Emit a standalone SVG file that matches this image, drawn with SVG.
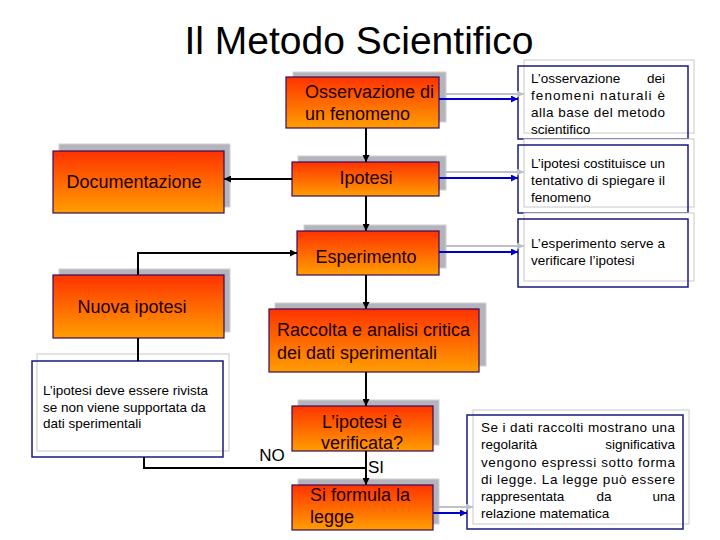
<svg xmlns="http://www.w3.org/2000/svg" width="720" height="540" viewBox="0 0 720 540">
<defs>
<linearGradient id="og" x1="0" y1="0" x2="0" y2="1">
<stop offset="0" stop-color="#FF3300"/>
<stop offset="1" stop-color="#FF9E00"/>
</linearGradient>
<marker id="ab" viewBox="0 0 10 10" refX="10" refY="5" markerWidth="7" markerHeight="7" markerUnits="userSpaceOnUse" orient="auto"><path d="M0,0 L10,5 L0,10 z" fill="#000"/></marker>
<marker id="au" viewBox="0 0 10 10" refX="10" refY="5" markerWidth="7" markerHeight="7" markerUnits="userSpaceOnUse" orient="auto"><path d="M0,0 L10,5 L0,10 z" fill="#0000CC"/></marker>
<marker id="ag" viewBox="0 0 10 10" refX="10" refY="5" markerWidth="7" markerHeight="7" markerUnits="userSpaceOnUse" orient="auto"><path d="M0,0 L10,5 L0,10 z" fill="#C0C0C8"/></marker>
</defs>
<style>
.sh{fill:#B4B4BC;stroke:#D0D0D4;stroke-width:1}
.bx{fill:url(#og);stroke:#3A0A5A;stroke-width:1.2}
.t{font-family:"Liberation Sans",Arial,sans-serif;font-size:18px;fill:#200000}
.gb{fill:#fff;stroke:#C8C8C8;stroke-width:1}
.nb{fill:none;stroke:#1A1A7A;stroke-width:1.5}
.s{font-family:"Liberation Sans",Arial,sans-serif;font-size:13.5px;fill:#000}
.c{stroke:#000;stroke-width:2;fill:none}
.cb{stroke:#0000CC;stroke-width:2;fill:none}
.cg{stroke:#C0C0C8;stroke-width:2;fill:none}
</style>
<rect width="720" height="540" fill="#fff"/>
<text x="359" y="54" text-anchor="middle" font-family="'Liberation Sans',Arial,sans-serif" font-size="39" fill="#000">Il Metodo Scientifico</text>

<g id="osservazione">
<rect class="sh" x="293" y="72" width="153" height="50"/>
<rect class="bx" x="286" y="77" width="153" height="51"/>
<text class="t" x="305" y="98">Osservazione di</text>
<text class="t" x="305" y="120">un fenomeno</text>
</g>
<g id="ipotesi">
<rect class="sh" x="298" y="156" width="148" height="34"/>
<rect class="bx" x="292" y="162" width="147" height="34"/>
<text class="t" x="366" y="184" text-anchor="middle">Ipotesi</text>
</g>
<g id="esperimento">
<rect class="sh" x="304" y="225" width="142" height="43"/>
<rect class="bx" x="297" y="231" width="142" height="44"/>
<text class="t" x="366" y="263" text-anchor="middle">Esperimento</text>
</g>
<g id="documentazione">
<rect class="sh" x="59" y="144" width="171" height="63"/>
<rect class="bx" x="53" y="151" width="171" height="62"/>
<text class="t" x="134" y="188" text-anchor="middle">Documentazione</text>
</g>
<g id="nuova-ipotesi">
<rect class="sh" x="59" y="269" width="171" height="63"/>
<rect class="bx" x="53" y="275" width="171" height="63"/>
<text class="t" x="132" y="313" text-anchor="middle">Nuova ipotesi</text>
</g>
<g id="raccolta">
<rect class="sh" x="275" y="303" width="211" height="63"/>
<rect class="bx" x="269" y="309" width="210" height="63"/>
<text class="t" x="277" y="336">Raccolta e analisi critica</text>
<text class="t" x="277" y="359">dei dati sperimentali</text>
</g>
<g id="verificata">
<rect class="sh" x="298" y="400" width="141" height="45"/>
<rect class="bx" x="292" y="406" width="141" height="45"/>
<text class="t" x="362" y="428" text-anchor="middle">L’ipotesi è</text>
<text class="t" x="362" y="449" text-anchor="middle">verificata?</text>
</g>
<g id="legge">
<rect class="sh" x="298" y="479" width="141" height="45"/>
<rect class="bx" x="292" y="485" width="141" height="45"/>
<text class="t" x="310" y="501">Si formula la</text>
<text class="t" x="310" y="523">legge</text>
</g>

<g id="nota-osservazione">
<rect class="gb" x="524" y="60" width="170" height="73"/>
<rect class="nb" x="518" y="66" width="170" height="73"/>
<text class="s" x="531" y="83">L’osservazione</text>
<text class="s" x="665" y="83" text-anchor="end">dei</text>
<text class="s" x="531" y="100" textLength="134" lengthAdjust="spacing">fenomeni naturali è</text>
<text class="s" x="531" y="117" textLength="134" lengthAdjust="spacing">alla base del metodo</text>
<text class="s" x="531" y="134">scientifico</text>
</g>
<g id="nota-ipotesi">
<rect class="gb" x="524" y="139" width="170" height="68"/>
<rect class="nb" x="518" y="145" width="170" height="68"/>
<text class="s" x="531" y="168" textLength="134" lengthAdjust="spacing">L’ipotesi costituisce un</text>
<text class="s" x="531" y="185" textLength="134" lengthAdjust="spacing">tentativo di spiegare il</text>
<text class="s" x="531" y="202">fenomeno</text>
</g>
<g id="nota-esperimento">
<rect class="gb" x="524" y="213" width="170" height="68"/>
<rect class="nb" x="518" y="219" width="170" height="68"/>
<text class="s" x="531" y="248" textLength="134" lengthAdjust="spacing">L’esperimento serve a</text>
<text class="s" x="531" y="265">verificare l’ipotesi</text>
</g>
<g id="nota-nuova-ipotesi">
<rect class="gb" x="37" y="354" width="192" height="97"/>
<rect class="nb" x="32" y="361" width="191" height="96"/>
<text class="s" x="43" y="395">L’ipotesi deve essere rivista</text>
<text class="s" x="43" y="412">se non viene supportata da</text>
<text class="s" x="43" y="428">dati sperimentali</text>
</g>
<g id="nota-legge">
<rect class="gb" x="473" y="410" width="216" height="114"/>
<rect class="nb" x="467" y="415" width="216" height="114"/>
<text class="s" x="481" y="432" textLength="194" lengthAdjust="spacing">Se i dati raccolti mostrano una</text>
<text class="s" x="481" y="449">regolarità</text>
<text class="s" x="675" y="449" text-anchor="end">significativa</text>
<text class="s" x="481" y="467" textLength="194" lengthAdjust="spacing">vengono espressi sotto forma</text>
<text class="s" x="481" y="484" textLength="194" lengthAdjust="spacing">di legge. La legge può essere</text>
<text class="s" x="481" y="501">rappresentata</text>
<text class="s" x="604" y="501" text-anchor="middle">da</text>
<text class="s" x="675" y="501" text-anchor="end">una</text>
<text class="s" x="481" y="518">relazione matematica</text>
</g>

<g id="connectors">
<path class="c" d="M366,128 V162" marker-end="url(#ab)"/>
<path class="c" d="M366,196 V231" marker-end="url(#ab)"/>
<path class="c" d="M292,179 H224" marker-end="url(#ab)"/>
<path class="c" d="M366,275 V309" marker-end="url(#ab)"/>
<path class="c" d="M138,275 V253 H297" marker-end="url(#ab)"/>
<path class="c" d="M138,338 V361" stroke-width="1.5"/>
<path class="c" d="M366,372 V406" marker-end="url(#ab)"/>
<path class="c" d="M366,451 V485" marker-end="url(#ab)"/>
<path class="c" d="M144,457 V468 H366" stroke-width="1.5"/>
<path class="cg" d="M446,94 H524" marker-end="url(#ag)"/>
<path class="cb" d="M439,99 H518" marker-end="url(#au)"/>
<path class="cg" d="M446,172 H524" marker-end="url(#ag)"/>
<path class="cb" d="M439,178 H518" marker-end="url(#au)"/>
<path class="cg" d="M446,246 H524" marker-end="url(#ag)"/>
<path class="cb" d="M439,252 H518" marker-end="url(#au)"/>
<path class="cg" d="M439,507 H473" marker-end="url(#ag)"/>
<path class="cb" d="M433,513 H467" marker-end="url(#au)"/>
<text x="272" y="461" text-anchor="middle" font-family="'Liberation Sans',Arial,sans-serif" font-size="17" fill="#000">NO</text>
<text x="368" y="473" font-family="'Liberation Sans',Arial,sans-serif" font-size="17" fill="#000">SI</text>
</g>
</svg>
